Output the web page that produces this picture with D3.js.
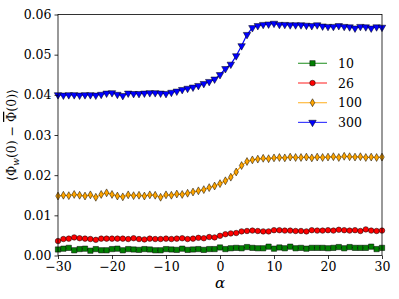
<!DOCTYPE html>
<html>
<head>
<meta charset="utf-8">
<script src="https://cdn.jsdelivr.net/npm/d3@7"></script>
<style>
  body { margin: 0; background: #fff; }
</style>
</head>
<body>
<div id="chart"></div>
<script>
var FONT = "DejaVu Serif";

var alphas = [-30,-29,-28,-27,-26,-25,-24,-23,-22,-21,-20,-19,-18,-17,-16,-15,-14,-13,-12,-11,
  -10,-9,-8,-7,-6,-5,-4,-3,-2,-1,0,1,2,3,4,5,6,7,8,9,10,11,12,13,14,15,16,17,18,19,20,
  21,22,23,24,25,26,27,28,29,30];

var n10 = [.0015,.0017,.0019,.0013,.0016,.0017,.0012,.0016,.0013,.0013,.0016,.0017,.0013,.0016,.0015,.0014,.0016,.0015,.0013,.0013,
  .0016,.0015,.0014,.0017,.0014,.0015,.0016,.0014,.0016,.0016,.0020,.0016,.0018,.0019,.0018,.0021,.0019,.0018,.0018,.0022,.0017,
  .0020,.0018,.0022,.0018,.0019,.0017,.0019,.0019,.0019,.0018,.0019,.0021,.0018,.0021,.0019,.0019,.0019,.0022,.0016,.0019];

var n26 = [.0036,.0041,.0042,.0045,.0043,.0042,.0041,.0039,.0042,.0042,.0042,.0042,.0042,.0041,.0043,.0041,.0040,.0042,.0041,.0041,
  .0042,.0041,.0042,.0043,.0041,.0042,.0044,.0043,.0046,.0045,.0049,.0053,.0055,.0056,.0060,.0061,.0062,.0061,.0060,.0060,.0063,
  .0063,.0062,.0062,.0061,.0061,.0060,.0063,.0062,.0062,.0063,.0062,.0064,.0063,.0062,.0063,.0061,.0065,.0062,.0061,.0062];

var n100 = [.0148,.0150,.0149,.0152,.0150,.0148,.0151,.0145,.0152,.0156,.0152,.0148,.0146,.0151,.0149,.0150,.0148,.0151,.0150,.0145,
  .0151,.0150,.0153,.0152,.0155,.0158,.0161,.0164,.0169,.0173,.0179,.0186,.0195,.0208,.0224,.0234,.0238,.0240,.0242,.0241,.0243,
  .0244,.0243,.0245,.0244,.0244,.0245,.0243,.0245,.0244,.0245,.0246,.0244,.0247,.0246,.0245,.0246,.0244,.0245,.0244,.0245];

var n300 = [.0400,.0399,.0400,.0400,.0399,.0400,.0400,.0399,.0401,.0404,.0405,.0401,.0398,.0404,.0403,.0403,.0404,.0405,.0405,.0404,
  .0403,.0406,.0409,.0413,.0416,.0419,.0423,.0428,.0433,.0439,.0450,.0465,.0476,.0497,.0522,.0550,.0567,.0572,.0575,.0576,.0578,
  .0575,.0575,.0574,.0574,.0574,.0573,.0572,.0574,.0571,.0570,.0570,.0572,.0570,.0569,.0566,.0570,.0569,.0566,.0569,.0568];

var seriesNames = ["10", "26", "100", "300"];
var seriesValues = [n10, n26, n100, n300];
var seriesColors = ["green", "red", "orange", "blue"];

var xTicks = [-30, -20, -10, 0, 10, 20, 30];
var yTicks = [0, 0.01, 0.02, 0.03, 0.04, 0.05, 0.06];

var width = 399, height = 299;
var margin = {top: 14.5, right: 17, bottom: 43.5, left: 58};

var svg = d3.select("#chart").append("svg")
  .attr("width", width)
  .attr("height", height)
  .style("font-family", FONT);

var x = d3.scaleLinear().domain([-30, 30]).range([margin.left, width - margin.right]);
var y = d3.scaleLinear().domain([0, 0.06]).range([height - margin.bottom, margin.top]);

// marker shapes
var shapes = [
  d3.symbol().type(d3.symbolSquare).size(28)(),
  d3.symbol().type(d3.symbolCircle).size(24)(),
  d3.symbol().type(d3.symbolDiamond).size(18)(),
  d3.symbol().type(d3.symbolTriangle).size(24)()
];
var rot = [0, 0, 0, 180];

var line = d3.line().x(function(d) { return x(d[0]); }).y(function(d) { return y(d[1]); });

seriesValues.forEach(function(vals, i) {
  var pts = alphas.map(function(a, j) { return [a, vals[j]]; });
  var g = svg.append("g");
  g.append("path")
    .datum(pts)
    .attr("d", line)
    .attr("fill", "none")
    .attr("stroke", seriesColors[i])
    .attr("stroke-width", 1.2);
  g.selectAll("path.m")
    .data(pts)
    .enter().append("path")
    .attr("class", "m")
    .attr("d", shapes[i])
    .attr("transform", function(d) { return "translate(" + x(d[0]) + "," + y(d[1]) + ") rotate(" + rot[i] + ")"; })
    .attr("fill", seriesColors[i])
    .attr("stroke", "#000")
    .attr("stroke-width", 0.5);
});

// axes
var xAxis = svg.append("g")
  .attr("transform", "translate(0," + (height - margin.bottom) + ")")
  .call(d3.axisBottom(x).tickValues(xTicks).tickSizeOuter(0).tickSize(3.5).tickPadding(3)
    .tickFormat(function(d) { return d < 0 ? "\u2212" + Math.abs(d) : d; }));
var yAxis = svg.append("g")
  .attr("transform", "translate(" + margin.left + ",0)")
  .call(d3.axisLeft(y).tickValues(yTicks).tickSizeOuter(0).tickSize(3.5).tickPadding(3)
    .tickFormat(d3.format(".2f")));
[xAxis, yAxis].forEach(function(a) {
  a.attr("font-family", FONT).attr("font-size", 12.5);
  a.select(".domain").remove();
  a.selectAll("line").attr("stroke", "#000").attr("stroke-width", 0.8);
  a.selectAll("text").attr("fill", "#000");
});

// frame
svg.append("rect")
  .attr("x", margin.left).attr("y", margin.top)
  .attr("width", width - margin.left - margin.right)
  .attr("height", height - margin.bottom - margin.top)
  .attr("fill", "none")
  .attr("stroke", "#000")
  .attr("stroke-width", 0.8);

// labels
svg.append("text")
  .attr("x", x(0))
  .attr("y", 288)
  .attr("text-anchor", "middle")
  .attr("font-family", FONT)
  .attr("font-size", 15)
  .style("font-style", "italic")
  .text("α");

var yl = svg.append("text")
  .attr("transform", "translate(16," + ((margin.top + height - margin.bottom) / 2) + ") rotate(-90)")
  .attr("text-anchor", "middle")
  .attr("font-family", FONT)
  .attr("font-size", 12.5);
yl.append("tspan").text("\u27E8\u03A6");
yl.append("tspan").attr("dy", 3).attr("font-size", 9).style("font-style", "italic").text("w");
yl.append("tspan").attr("dy", -3).text("(0) \u2212 ");
yl.append("tspan").style("text-decoration", "overline").text("\u03A6");
yl.append("tspan").text("(0)\u27E9");

// legend
var leg = svg.append("g");
seriesNames.forEach(function(name, i) {
  var ly = 63.3 + i * 19.7;
  leg.append("line")
    .attr("x1", 298).attr("x2", 327)
    .attr("y1", ly).attr("y2", ly)
    .attr("stroke", seriesColors[i])
    .attr("stroke-width", 1.2)
    .attr("opacity", 0.75);
  leg.append("path")
    .attr("d", shapes[i])
    .attr("transform", "translate(312.5," + ly + ") rotate(" + rot[i] + ")")
    .attr("fill", seriesColors[i])
    .attr("stroke", "#000")
    .attr("stroke-width", 0.5);
  leg.append("text")
    .attr("x", 338)
    .attr("y", ly + 4.5)
    .attr("font-family", FONT)
    .attr("font-size", 12.5)
    .text(name);
});
</script>
</body>
</html>
